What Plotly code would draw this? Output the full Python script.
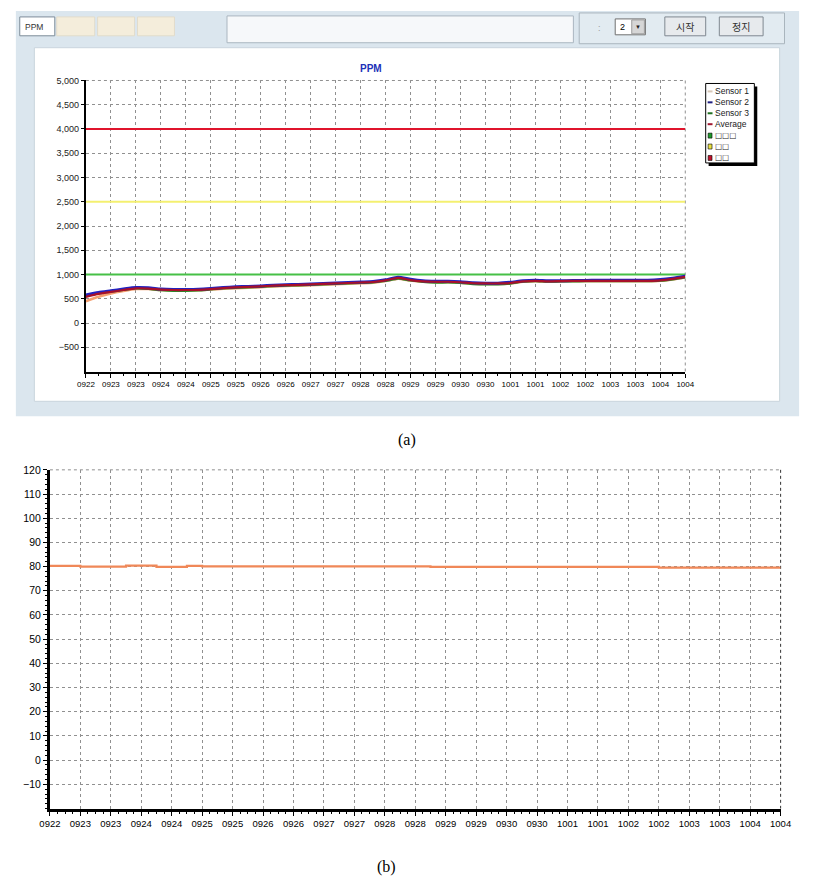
import plotly.graph_objects as go

W, H = 814, 885


def px(x):
    return x / W


def py(y):
    return 1 - y / H


# ---------------- data ----------------
tick_labels = ["0922", "0923", "0923", "0924", "0924", "0925", "0925", "0926", "0926",
               "0927", "0927", "0928", "0928", "0929", "0929", "0930", "0930", "1001",
               "1001", "1002", "1002", "1003", "1003", "1004", "1004"]
tick_pos = list(range(len(tick_labels)))

# (a) PPM chart, sampled every half tick
t_a = [i * 0.5 for i in range(49)]
sensor1 = [450, 540, 610, 660, 700, 700, 680, 670, 670, 675, 690, 705, 720, 730, 740, 755, 765,
           770, 780, 790, 800, 810, 820, 830, 865, 915, 875, 850, 840, 840, 830, 810, 805, 805,
           815, 850, 860, 850, 855, 860, 860, 860, 860, 860, 860, 860, 870, 900, 940]
sensor2 = [580, 630, 665, 700, 730, 725, 700, 690, 690, 695, 710, 730, 745, 755, 765, 780, 790,
           795, 805, 815, 825, 835, 845, 855, 890, 945, 900, 870, 860, 860, 850, 830, 820, 820,
           840, 870, 880, 870, 872, 875, 878, 880, 880, 880, 880, 880, 895, 925, 965]
sensor3 = [560, 610, 650, 685, 715, 705, 680, 665, 665, 675, 695, 715, 730, 740, 750, 765, 775,
           780, 790, 800, 810, 820, 830, 840, 870, 920, 880, 850, 835, 840, 830, 805, 800, 798,
           815, 855, 865, 855, 860, 862, 865, 865, 865, 865, 865, 865, 875, 905, 945]
average = [540, 600, 640, 680, 715, 710, 690, 680, 680, 685, 700, 720, 735, 745, 755, 770, 780,
           785, 795, 805, 815, 825, 835, 845, 880, 930, 885, 860, 850, 850, 840, 820, 815, 815,
           825, 860, 870, 860, 865, 870, 870, 870, 870, 870, 870, 870, 880, 910, 950]
series_names = ["Sensor 1", "Sensor 2", "Sensor 3", "Average"]
series_colors = ["#f4a070", "#2222c0", "#2a8a2a", "#a8102a"]
legend_line_colors = ["#d8c8b8", "#202080", "#207020", "#a01830"]

threshold_values = [1000, 2500, 4000]
threshold_colors = ["#46c046", "#f4f070", "#e0142c"]
threshold_names = ["\u25a1\u25a1\u25a1", "\u25a1\u25a1", "\u25a1\u25a1"]
legend_box_colors = ["#1f9a2a", "#e8e040", "#c0102a"]

ya_ticks = [-500, 0, 500, 1000, 1500, 2000, 2500, 3000, 3500, 4000, 4500, 5000]

# (b) chart, step series
t_b = [0, 1, 2.5, 3.5, 4.5, 5, 12.5, 20, 24]
value_b = [80.3, 80.0, 80.4, 79.9, 80.3, 80.1, 79.9, 79.6, 79.6]
yb_ticks = [-10, 0, 10, 20, 30, 40, 50, 60, 70, 80, 90, 100, 110, 120]

# ---------------- figure ----------------
fig = go.Figure()

for val, col in zip(threshold_values, threshold_colors):
    fig.add_trace(go.Scatter(x=[tick_pos[0], tick_pos[-1]], y=[val, val], mode="lines",
                             line=dict(color=col, width=2), showlegend=False,
                             xaxis="x", yaxis="y", hoverinfo="skip"))

order = [(0, sensor1), (2, sensor3), (1, sensor2), (3, average)]
widths = {0: 2.6, 2: 2.6, 1: 3.0, 3: 2.2}
for idx, vals in order:
    fig.add_trace(go.Scatter(x=t_a, y=vals, mode="lines", name=series_names[idx],
                             line=dict(color=series_colors[idx], width=widths[idx],
                                       shape="spline", smoothing=0.6),
                             showlegend=False, xaxis="x", yaxis="y"))

fig.add_trace(go.Scatter(x=t_b, y=value_b, mode="lines", line=dict(color="#f08858", width=2.2,
                                                                    shape="hv"),
                         showlegend=False, xaxis="x2", yaxis="y2"))

grid_common = dict(showgrid=True, gridcolor="#909090", gridwidth=1, griddash="3px,3px",
                   zeroline=False, showline=True, linecolor="black", ticks="outside",
                   tickcolor="black")

fig.update_layout(
    width=W, height=H, margin=dict(l=0, r=0, t=0, b=0),
    paper_bgcolor="white", plot_bgcolor="rgba(0,0,0,0)", showlegend=False,
    xaxis=dict(domain=[px(77), px(693)], range=[0, 24], anchor="y",
               tickmode="array", tickvals=tick_pos, ticktext=tick_labels, ticklen=4,
               linewidth=2,
               minor=dict(tickmode="linear", tick0=0, dtick=0.5, ticklen=2, ticks="outside",
                          tickcolor="black", showgrid=False),
               tickfont=dict(family="Liberation Sans", size=8, color="black"),
               **grid_common),
    yaxis=dict(domain=[py(368), py(75)], range=[-1000, 5000], anchor="x",
               tickmode="array", tickvals=ya_ticks, tickformat=",", ticklen=3, linewidth=2,
               tickfont=dict(family="Liberation Sans", size=9, color="#222"),
               **grid_common),
    xaxis2=dict(domain=[px(40), px(791)], range=[0, 24], anchor="y2",
                tickmode="array", tickvals=tick_pos, ticktext=tick_labels, ticklen=4,
                linewidth=3,
                minor=dict(tickmode="linear", tick0=0, dtick=0.25, ticklen=2, ticks="outside",
                           tickcolor="black", showgrid=False),
                tickfont=dict(family="Liberation Sans", size=9.5, color="black"),
                **grid_common),
    yaxis2=dict(domain=[py(808), py(467)], range=[-20, 120], anchor="x2",
                tickmode="array", tickvals=yb_ticks, ticklen=4, linewidth=3,
                minor=dict(tickmode="linear", tick0=0, dtick=2, ticklen=2, ticks="outside",
                           tickcolor="black", showgrid=False),
                tickfont=dict(family="Liberation Sans", size=10.5, color="black"),
                **grid_common),
)

shapes = []


def rect(x0, y0, x1, y1, fill, line=None, lw=1, layer="below"):
    shapes.append(dict(type="rect", xref="paper", yref="paper", x0=px(x0), x1=px(x1),
                       y0=py(y1), y1=py(y0), fillcolor=fill,
                       line=dict(color=line or fill, width=lw if line else 0), layer=layer))


def hline(x0, x1, y, color, width=1, dash=None, layer="below"):
    shapes.append(dict(type="line", xref="paper", yref="paper", x0=px(x0), x1=px(x1),
                       y0=py(y), y1=py(y), line=dict(color=color, width=width, dash=dash),
                       layer=layer))


def vline(x, y0, y1, color, width=1, dash=None, layer="below"):
    shapes.append(dict(type="line", xref="paper", yref="paper", x0=px(x), x1=px(x),
                       y0=py(y0), y1=py(y1), line=dict(color=color, width=width, dash=dash),
                       layer=layer))


# screenshot panel
rect(5, 5, 810, 413, "#dbe6ee")
rect(24, 42, 790, 398, "white", "#c9d5dd")
# tabs
rect(9, 11, 45, 30, "white", "#7d8c99")
for x0, x1 in [(47, 86), (89, 127), (130, 168)]:
    rect(x0, 11, x1, 30, "#f4eddb", "#e2dccb")
# text box
rect(222, 10, 578, 37, "#f6f8fa", "#aab6c0")
# group box
rect(584, 7, 795, 38, "#e2ebf1", "#a9b5bd")
# dropdown
rect(621, 13, 652, 29, "white", "#707070")
rect(638, 14, 651, 28, "#d6d6d6", "#9a9a9a")
# buttons
rect(672, 11, 714, 30, "#e7eaed", "#7f8891")
rect(728, 11, 773, 30, "#e7eaed", "#7f8891")

# dashed top/right borders
hline(77, 693, 75, "#909090", 1, "3px,3px")
vline(693, 75, 368, "#909090", 1, "3px,3px")
hline(40, 791, 467, "#909090", 1, "3px,3px")
vline(791, 467, 808, "#333333", 1, "3px,3px")

# legend box (a)
rect(717, 81, 767, 161, "black")
rect(714, 78, 764, 158, "white", "black")
row_y = [86, 97, 108, 119, 130.5, 141.5, 153]
for i in range(4):
    hline(716, 721, row_y[i], legend_line_colors[i], 2, layer="above")
for i in range(3):
    rect(716.5, row_y[4 + i] - 2.5, 720.5, row_y[4 + i] + 2.5, legend_box_colors[i],
         "black", 0.6, layer="above")

fig.update_layout(shapes=shapes)

ann = []


def text(x, y, s, size=9, color="black", family="Liberation Sans", xanchor="left", bold=False):
    ann.append(dict(x=px(x), y=py(y), xref="paper", yref="paper",
                    text=f"<b>{s}</b>" if bold else s,
                    showarrow=False, xanchor=xanchor, yanchor="middle",
                    font=dict(size=size, color=color, family=family)))


text(370, 63, "PPM", 10, "#2030b8", bold=True, xanchor="center")
legend_labels = series_names + threshold_names
for i, lab in enumerate(legend_labels):
    text(722, row_y[i], lab, 8.5 if i < 4 else 7.5, "#222",
         family="Liberation Sans" if i < 4 else "DejaVu Sans")
text(12, 21, "PPM", 8.5, "#333")
text(601, 22, ":", 9, "#999")
text(624, 21, "2", 9, "black")
text(644.5, 21, "\u25bc", 6, "#222", xanchor="center")
text(693, 20.5, "시작", 10, "#333", family="Noto Sans CJK KR", xanchor="center")
text(750.5, 20.5, "정지", 10, "#333", family="Noto Sans CJK KR", xanchor="center")
text(407, 437, "(a)", 16, "black", family="Liberation Serif", xanchor="center")
text(386, 867, "(b)", 16, "black", family="Liberation Serif", xanchor="center")

fig.update_layout(annotations=ann)

fig.write_html("out.html")
